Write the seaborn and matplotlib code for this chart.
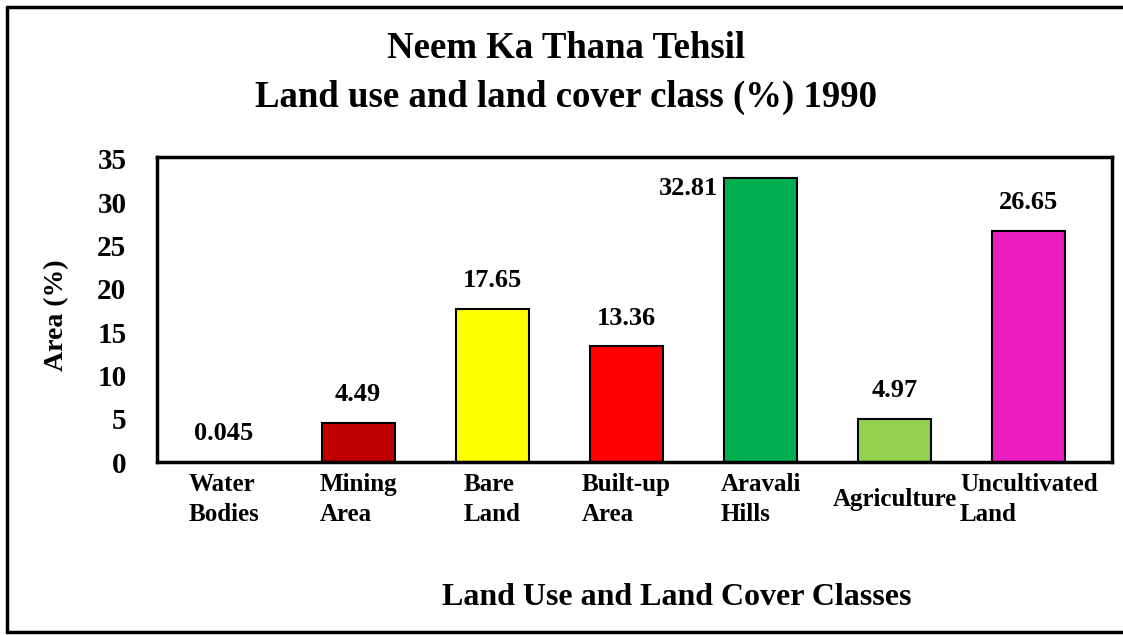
import matplotlib
matplotlib.use("Agg")
import matplotlib.pyplot as plt
import pandas as pd
import seaborn as sns
from matplotlib.lines import Line2D

# data
classes = ["Water\nBodies", "Mining\nArea", "Bare\nLand", "Built-up\nArea",
           "Aravali\nHills", "Agriculture", "Uncultivated\nLand"]
area_pct = [0.045, 4.49, 17.65, 13.36, 32.81, 4.97, 26.65]
value_labels = ["0.045", "4.49", "17.65", "13.36", "32.81", "4.97", "26.65"]
bar_colors = ["#00B0F0", "#C00000", "#FFFF00", "#FF0000",
              "#00B050", "#92D050", "#EA1EC0"]

df = pd.DataFrame({"Class": classes, "Area": area_pct})

sns.set_theme(style="white")
plt.rcParams["font.family"] = ["Liberation Serif", "DejaVu Serif"]
plt.rcParams["font.weight"] = "bold"
plt.rcParams["text.color"] = "black"
plt.rcParams["axes.labelcolor"] = "black"
plt.rcParams["xtick.color"] = "black"
plt.rcParams["ytick.color"] = "black"

fig = plt.figure(figsize=(11.23, 6.35), dpi=100)
ax = fig.add_axes([0.1398, 0.2724, 0.8504, 0.4804])

sns.barplot(data=df, x="Class", y="Area", hue="Class",
            palette=dict(zip(classes, bar_colors)), legend=False,
            saturation=1, width=0.545, edgecolor="black", linewidth=1.5, ax=ax)

ax.set_xlim(-0.5, 6.62)
ax.set_ylim(0, 35.2)
ax.set_yticks(range(0, 36, 5))
ax.tick_params(axis="both", length=0)
ax.tick_params(axis="y", pad=22, labelsize=21)
ax.tick_params(axis="x", pad=27, labelsize=18)
for lab in ax.get_yticklabels():
    lab.set_fontweight("bold")
for lab in ax.get_xticklabels():
    lab.set_fontweight("bold")
    lab.set_verticalalignment("center")
    lab.set_multialignment("left")
    lab.set_linespacing(1.35)

for s in ax.spines.values():
    s.set_visible(True)
    s.set_color("black")
    s.set_linewidth(2.5)

# value labels above bars (Aravali one sits left of the bar top)
for i, (v, t) in enumerate(zip(area_pct, value_labels)):
    if i == 4:
        ax.annotate(t, xy=(i - 0.2725, v), xytext=(-4, -8),
                    textcoords="offset points", ha="right", va="center",
                    fontsize=19, fontweight="bold")
    else:
        ax.annotate(t, xy=(i, v), xytext=(0, 12),
                    textcoords="offset points", ha="center", va="bottom",
                    fontsize=19, fontweight="bold")

ax.set_xlabel("Land Use and Land Cover Classes", fontsize=23, fontweight="bold")
ax.xaxis.set_label_coords(0.544, -0.445)
ax.xaxis.label.set_verticalalignment("center")
ax.set_ylabel("Area (%)", fontsize=20, fontweight="bold")
ax.yaxis.set_label_coords(-0.105, 0.48)
ax.yaxis.label.set_verticalalignment("center")

fig.text(0.504, 0.924, "Neem Ka Thana Tehsil", ha="center", va="center",
         fontsize=26.5, fontweight="bold")
fig.text(0.504, 0.846, "Land use and land cover class (%) 1990", ha="center",
         va="center", fontsize=26.5, fontweight="bold")

# outer frame (top, left, bottom)
for xs, ys in [([0.006, 1.0], [0.989, 0.989]),
               ([0.006, 0.006], [0.005, 0.989]),
               ([0.006, 1.0], [0.005, 0.005])]:
    fig.add_artist(Line2D(xs, ys, color="black", linewidth=2.5,
                          transform=fig.transFigure))

fig.savefig("out.png", dpi=100)
